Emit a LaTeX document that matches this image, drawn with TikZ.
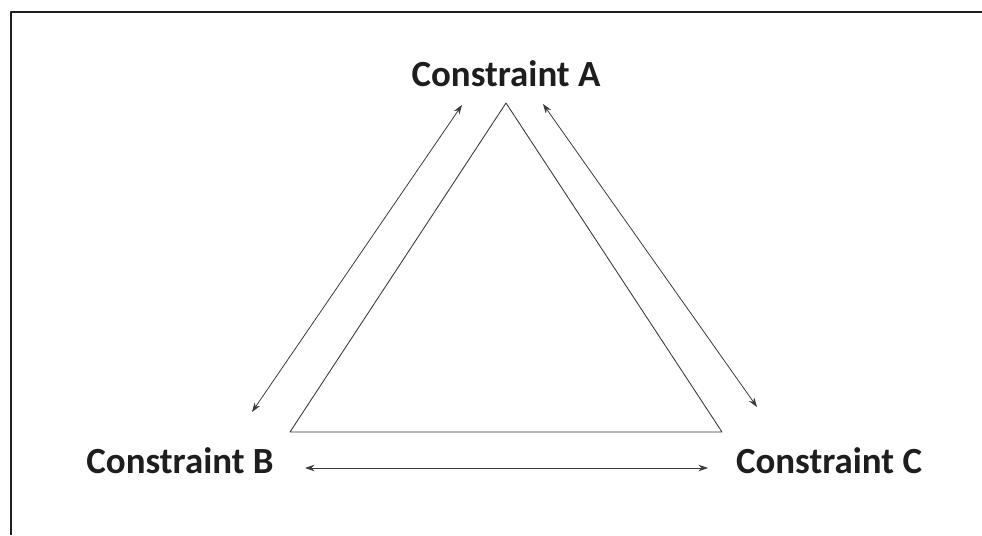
\documentclass[tikz,border=0pt]{standalone}
\usepackage{fontspec}
\setmainfont{Carlito}
\usepackage{tikz}
\usetikzlibrary{arrows.meta}
\definecolor{tcInk}{HTML}{1E1E1E}
\definecolor{tcLine}{HTML}{3A3A3A}
\tikzset{
  tc diagram/.style={line cap=round, line join=round},
  tc frame/.style={draw=tcInk, line width=1.1pt, line cap=butt},
  tc label/.style={font=\bfseries\fontsize{21}{25}\selectfont, text=tcInk,
    anchor=base, inner sep=0pt},
  tc edge/.style={draw=tcLine, line width=0.5pt},
  tc arrow/.style={{Stealth[length=1.9mm,width=1.3mm]}-{Stealth[length=1.9mm,width=1.3mm]},
    draw=tcLine, line width=0.45pt}
}

\begin{document}
\begin{tikzpicture}[tc diagram]
\useasboundingbox (0,0) rectangle (19.64,10.7);
\fill[white] (0,0) rectangle (19.64,10.7);
% frame
\draw[tc frame] (0.22,0) -- (0.22,10.46) -- (19.64,10.46);
% labels
\node[tc label] (consA) at (10.12,8.98) {Constraint A};
\node[tc label] (consB) at (3.60,1.24) {Constraint B};
\node[tc label] (consC) at (16.58,1.24) {Constraint C};
% triangle
\coordinate (apex) at (10.12,8.64);
\coordinate (left) at (5.80,2.06);
\coordinate (right) at (14.44,2.06);
\draw[tc edge] (apex) -- (left) -- (right) -- cycle;
% arrows between constraints
\coordinate (ab1) at (9.24,8.60);
\coordinate (ab2) at (5.04,2.46);
\coordinate (ac1) at (10.86,8.62);
\coordinate (ac2) at (15.14,2.56);
\coordinate (bc1) at (6.10,1.34);
\coordinate (bc2) at (14.16,1.34);
\draw[tc arrow] (ab1) -- (ab2);
\draw[tc arrow] (ac1) -- (ac2);
\draw[tc arrow] (bc1) -- (bc2);
\end{tikzpicture}
\end{document}
